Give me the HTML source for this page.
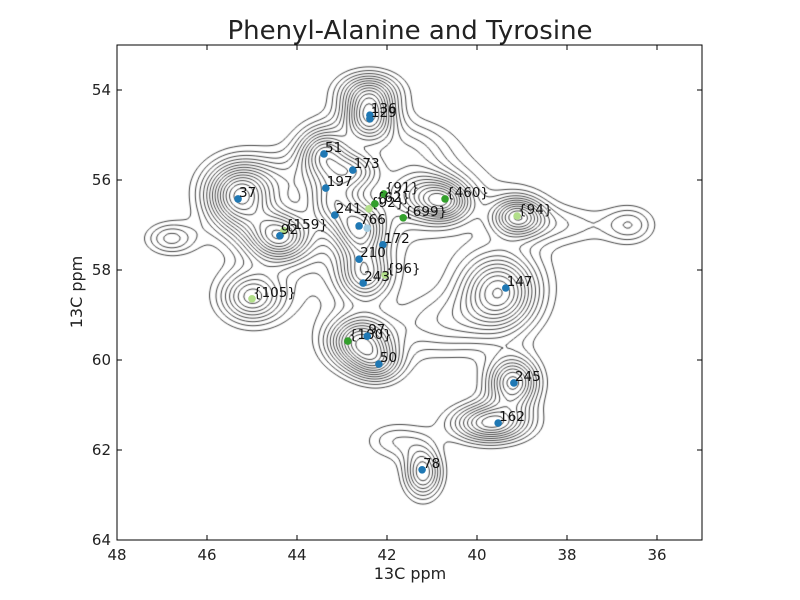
<!DOCTYPE html>
<html><head><meta charset="utf-8"><style>
body{margin:0;background:#fff;font-family:"Liberation Sans","DejaVu Sans",sans-serif}
#wrap{position:relative;width:800px;height:600px}
svg text{font-family:"DejaVu Sans","Liberation Sans",sans-serif}
</style></head><body>
<div id="wrap">
<canvas id="cv" width="800" height="600" style="position:absolute;left:0;top:0"></canvas>
<svg id="sv" width="800" height="600" style="position:absolute;left:0;top:0"></svg>
</div>
<script>
const xTicks=[48,46,44,42,40,38,36];
const yTicks=[54,56,58,60,62,64];
const blueLabels=["136","129","51","173","197","37","241","766","92","172","210","243","147","97","50","245","162","78"];
const blueX=[42.38,42.38,43.4,42.76,43.36,45.31,43.16,42.62,44.38,42.09,42.62,42.53,39.36,42.44,42.18,39.18,39.53,41.22];
const blueY=[54.56,54.64,55.42,55.78,56.18,56.42,56.78,57.02,57.24,57.44,57.76,58.29,58.40,59.47,60.09,60.51,61.40,62.44];
const dgLabels=["{91}","{460}","{699}","{100}","{62}"];
const dgX=[42.07,40.71,41.64,42.87,42.27];
const dgY=[56.31,56.42,56.84,59.58,56.53];
const lgLabels=["{92}","{94}","{159}","{105}","{96}"];
const lgX=[42.4,39.11,44.29,45.0,42.04];
const lgY=[56.64,56.8,57.13,58.64,58.11];
const blobX=[45.3,44.4,45.0,46.8,43.4,42.4,42.4,42.7,43.2,42.6,42.5,41.2,40.7,39.1,36.6,39.5,42.6,42.2,40.8,39.2,39.7,41.2,41.8,42,38.2,44.5,41.5];
const blobY=[56.4,57.25,58.6,57.3,55.4,54.6,54.0,55.8,56.5,57.1,58.1,56.3,56.5,56.8,57.0,58.5,59.6,60.1,59.2,60.5,61.4,62.5,61.8,57,57.0,56.0,55.3];
const blobSX=[.5,.5,.5,.4,.4,.4,.5,.4,.4,.4,.4,.6,.4,.4,.4,.6,.5,.4,.8,.4,.6,.3,.5,2.2,.8,.9,.6];
const blobSY=[.5,.4,.4,.25,.4,.4,.3,.3,.4,.4,.4,.4,.3,.3,.3,.6,.4,.3,.5,.4,.3,.4,.3,1.4,.3,.4,.4];
const blobA=[1,1,.7,.4,.8,1,.5,.6,.6,.8,.7,.6,.6,.8,.35,1,1,.5,.35,.9,.9,.7,.3,.3,.25,.3,.3];

const L=117,R=702,T=45,B=540;
const sx=v=>L+(48-v)*(R-L)/13;
const sy=v=>T+(v-53)*(B-T)/11;
const NS="http://www.w3.org/2000/svg";
const sv=document.getElementById('sv');
function mk(t,a,txt){const e=document.createElementNS(NS,t);for(const k in a)e.setAttribute(k,a[k]);if(txt!==undefined)e.textContent=txt;sv.appendChild(e);return e;}

const cv=document.getElementById('cv'),ctx=cv.getContext('2d');
function f(x,y){let s=0;for(let i=0;i<blobX.length;i++){const dx=(x-blobX[i])/blobSX[i],dy=(y-blobY[i])/blobSY[i];s+=blobA[i]*Math.exp(-0.5*(dx*dx+dy*dy));}return s;}
const step=3,nx=Math.ceil((R-L)/step)+1,ny=Math.ceil((B-T)/step)+1;
const g=[];
for(let j=0;j<ny;j++){g.push([]);for(let i=0;i<nx;i++){const px=L+i*step,py=T+j*step;g[j].push(f(48-(px-L)*13/(R-L),53+(py-T)*11/(B-T)));}}
ctx.save();ctx.beginPath();ctx.rect(L,T,R-L,B-T);ctx.clip();
ctx.strokeStyle='#000';ctx.lineWidth=0.75;
for(let lv=0.15;lv<1.4;lv+=0.08){
 ctx.beginPath();
 for(let j=0;j<ny-1;j++)for(let i=0;i<nx-1;i++){
  const a=g[j][i],b=g[j][i+1],c=g[j+1][i+1],d=g[j+1][i];
  const x0=L+i*step,y0=T+j*step;
  const pts=[];
  const e=(v1,v2,p1,p2)=>{if((v1<lv)!==(v2<lv)){const t=(lv-v1)/(v2-v1);pts.push([p1[0]+t*(p2[0]-p1[0]),p1[1]+t*(p2[1]-p1[1])]);}};
  e(a,b,[x0,y0],[x0+step,y0]);e(b,c,[x0+step,y0],[x0+step,y0+step]);
  e(c,d,[x0+step,y0+step],[x0,y0+step]);e(d,a,[x0,y0+step],[x0,y0]);
  for(let k=0;k+1<pts.length;k+=2){ctx.moveTo(pts[k][0],pts[k][1]);ctx.lineTo(pts[k+1][0],pts[k+1][1]);}
 }
 ctx.stroke();
}
ctx.restore();

const fr=mk('rect',{x:L,y:T,width:R-L,height:B-T,fill:'none',stroke:'#000','stroke-width':1});


xTicks.forEach(v=>{const x=sx(v);
 const t1=mk('line',{x1:x,y1:B,x2:x,y2:B-5,stroke:'#000'});
 const t2=mk('line',{x1:x,y1:T,x2:x,y2:T+5,stroke:'#000'});
 const tl=mk('text',{x:x,y:B+20,'text-anchor':'middle','font-size':15,fill:'#222'},String(v));
});
yTicks.forEach(v=>{const y=sy(v);
 const t1=mk('line',{x1:L,y1:y,x2:L+5,y2:y,stroke:'#000'});
 const t2=mk('line',{x1:R,y1:y,x2:R-5,y2:y,stroke:'#000'});
 const tl=mk('text',{x:L-6,y:y+5,'text-anchor':'end','font-size':15,fill:'#222'},String(v));
});
function pts(X,Y,Lb,col,nm){for(let i=0;i<X.length;i++){
 const c=mk('circle',{cx:sx(X[i]),cy:sy(Y[i]),r:3.8,fill:col});
 
 
 const t=mk('text',{x:sx(X[i])+1,y:sy(Y[i])-2,'font-size':13.5,fill:'#111'},Lb[i]);
 
 
}}
pts(lgX,lgY,lgLabels,'#b2df8a','light-green');
pts(dgX,dgY,dgLabels,'#33a02c','dark-green');
pts(blueX,blueY,blueLabels,'#1f78b4','blue');
const lb=mk('circle',{cx:sx(42.44),cy:sy(57.07),r:3.8,fill:'#a6cee3'});


const ti=mk('text',{x:410,y:39,'text-anchor':'middle','font-size':26,fill:'#222'},'Phenyl-Alanine and Tyrosine');

const xl=mk('text',{x:410,y:579,'text-anchor':'middle','font-size':16,fill:'#222'},'13C ppm');

const yl=mk('text',{x:82,y:292,'text-anchor':'middle','font-size':16,fill:'#222',transform:'rotate(-90 82 292)'},'13C ppm');

</script>
</body></html>
